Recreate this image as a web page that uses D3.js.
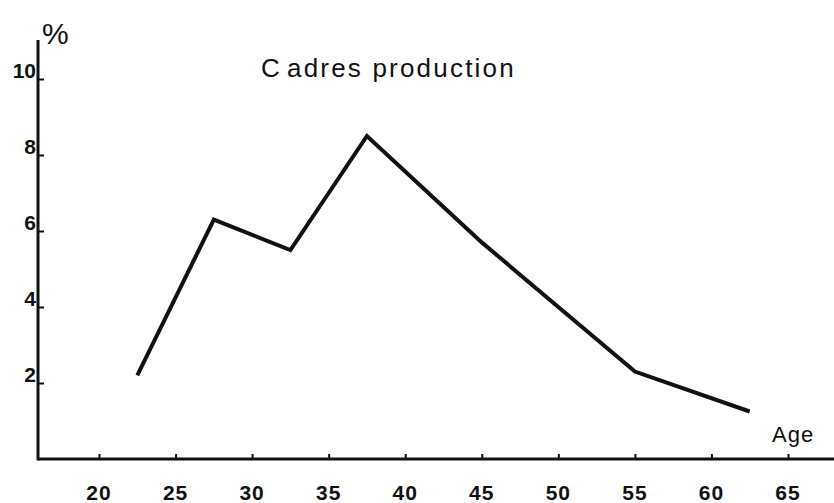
<!DOCTYPE html>
<html><head><meta charset="utf-8">
<script src="https://cdn.jsdelivr.net/npm/d3@7/dist/d3.min.js"></script>
<style>html,body{margin:0;padding:0;background:#fff;}svg{display:block;}</style>
</head><body>
<svg id="chart" width="834" height="503"></svg>
<script>
const ages = [22.5, 27.5, 32.5, 37.5, 45, 55, 62.5];
const percents = [2.2, 6.3, 5.5, 8.5, 5.7, 2.3, 1.25];
const xTicks = [20, 25, 30, 35, 40, 45, 50, 55, 60, 65];
const yTicks = [2, 4, 6, 8, 10];
const title = "Cadres production";
const xTitle = "Age";
const yTitle = "%";

const svg = d3.select("#chart");
const x = d3.scaleLinear().domain([20, 65]).range([99, 788]);
const y = d3.scaleLinear().domain([0, 10]).range([459, 79]);
const ink = "#111";

// axes lines
svg.append("line").attr("x1", 38).attr("x2", 834).attr("y1", 459).attr("y2", 459)
  .attr("stroke", ink).attr("stroke-width", 3);
svg.append("line").attr("x1", 38).attr("x2", 38).attr("y1", 460.5).attr("y2", 40)
  .attr("stroke", ink).attr("stroke-width", 3);

// x axis ticks and labels
const xAxis = d3.axisTop(x).tickValues(xTicks).tickSize(4).tickFormat("");
const gx = svg.append("g").attr("transform", "translate(0,458)").call(xAxis);
gx.select(".domain").remove();
gx.selectAll("line").attr("stroke", ink).attr("stroke-width", 2);
svg.append("g").selectAll("text").data(xTicks).join("text")
  .attr("x", d => x(d)).attr("y", 500)
  .attr("text-anchor", "middle")
  .attr("font-family", "Liberation Sans, Arial, sans-serif")
  .attr("font-weight", "bold").attr("font-size", 21)
  .attr("letter-spacing", 1)
  .attr("fill", ink).text(d => d);

// y axis ticks and labels
const yAxis = d3.axisRight(y).tickValues(yTicks).tickSize(5).tickFormat("");
const gy = svg.append("g").attr("transform", "translate(39,0)").call(yAxis);
gy.select(".domain").remove();
gy.selectAll("line").attr("stroke", ink).attr("stroke-width", 2);
svg.append("g").selectAll("text").data(yTicks).join("text")
  .attr("x", 36).attr("y", d => y(d) - 1)
  .attr("text-anchor", "end")
  .attr("font-family", "Liberation Sans, Arial, sans-serif")
  .attr("font-weight", "bold").attr("font-size", 21)
  .attr("fill", ink).text(d => d);

// % sign
svg.append("text").attr("x", 42).attr("y", 44)
  .attr("font-family", "Liberation Sans, Arial, sans-serif")
  .attr("font-size", 30).attr("fill", ink).text(yTitle);

// title
const t = svg.append("text").attr("x", 261).attr("y", 77)
  .attr("font-family", "Liberation Sans, Arial, sans-serif")
  .attr("font-size", 26).attr("letter-spacing", 2.2).attr("fill", ink);
t.append("tspan").text(title.slice(0, 1));
t.append("tspan").attr("dx", 5).text(title.slice(1));

// Age label
svg.append("text").attr("x", 772).attr("y", 442)
  .attr("font-family", "Liberation Sans, Arial, sans-serif")
  .attr("font-size", 22).attr("letter-spacing", 1).attr("fill", ink).text(xTitle);

// line
const data = ages.map((a, i) => ({a, v: percents[i]}));
const line = d3.line().x(d => x(d.a)).y(d => y(d.v));
svg.append("path").datum(data).attr("d", line)
  .attr("fill", "none").attr("stroke", ink).attr("stroke-width", 4)
  .attr("stroke-linejoin", "miter").attr("stroke-linecap", "butt");
</script>
</body></html>
